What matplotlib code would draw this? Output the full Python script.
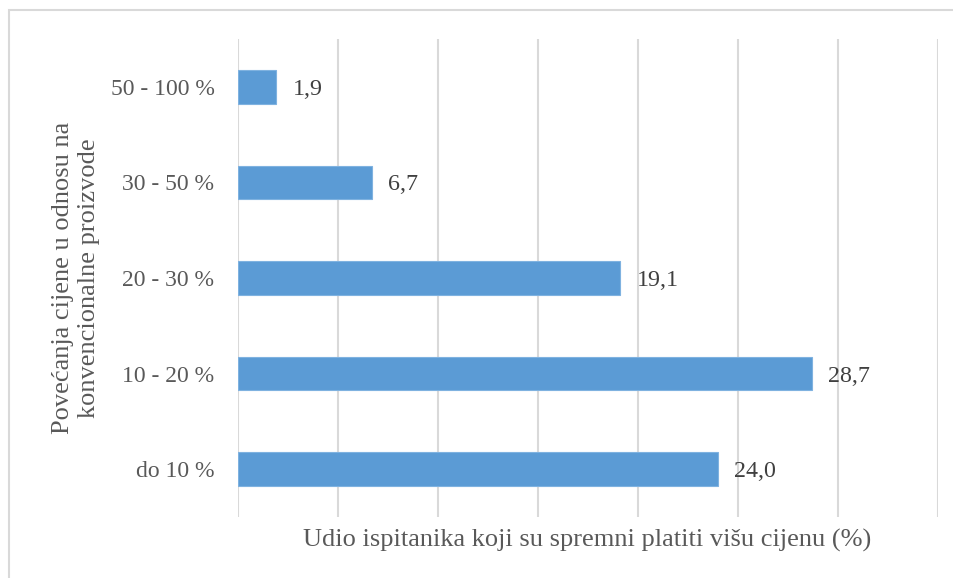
import matplotlib
matplotlib.use("Agg")
import matplotlib.pyplot as plt
from matplotlib.patches import Rectangle

categories = ["do 10 %", "10 - 20 %", "20 - 30 %", "30 - 50 %", "50 - 100 %"]
values = [24.0, 28.7, 19.1, 6.7, 1.9]
value_labels = ["24,0", "28,7", "19,1", "6,7", "1,9"]
xlabel = "Udio ispitanika koji su spremni platiti višu cijenu (%)"
ylabel = "Povećanja cijene u odnosu na\nkonvencionalne proizvode"

plt.rcParams['font.family'] = ['Liberation Serif', 'DejaVu Serif']

W, H = 954, 578
fig = plt.figure(figsize=(W/100, H/100), dpi=100)
ax = fig.add_axes([238.5/W, 1-517/H, 700/W, 478/H])

y = list(range(len(categories)))
ax.barh(y, values, height=0.35, color='#5B9BD5', edgecolor='#7FB2E0', linewidth=0.8, zorder=3)
ax.set_xlim(0, 35)
ax.set_ylim(-0.5, len(categories)-0.5)
ax.set_xticks(range(0, 36, 5))
ax.xaxis.grid(True, color='#D9D9D9', linewidth=1.5, zorder=0)
ax.tick_params(axis='x', length=0, labelbottom=False)
ax.tick_params(axis='y', length=0, pad=17.3, labelsize=17, labelcolor='#595959')
ax.set_yticks(y)
ax.set_yticklabels(categories)
for s in ax.spines.values():
    s.set_visible(False)

for yi, v, lab in zip(y, values, value_labels):
    ax.annotate(lab, (v, yi), xytext=(16, 0), textcoords='offset pixels',
                ha='left', va='center_baseline', fontsize=17.3, color='#404040')

fig.text(587/W, 1-540/H, xlabel, ha='center', va='center', fontsize=19, color='#595959')
fig.text(76/W, 1-278/H, ylabel, ha='center', va='center', rotation=90,
         fontsize=19, color='#595959', linespacing=1.2, multialignment='center')

fig.patches.append(Rectangle((9.5/W, -0.1), 2, (H-10.5)/H + 0.1, transform=fig.transFigure,
                             fill=False, edgecolor='#D9D9D9', linewidth=1.5))

fig.savefig("out.png", dpi=100)
